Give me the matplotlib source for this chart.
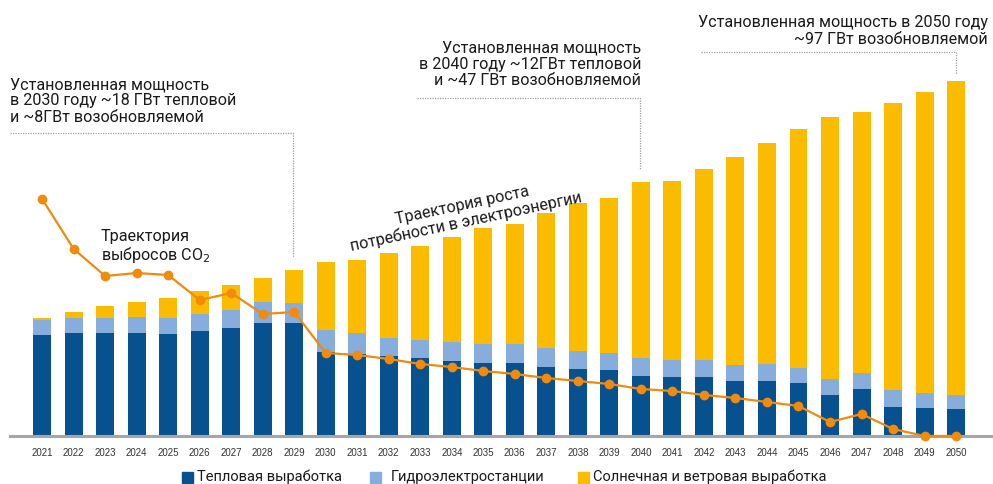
import numpy as np
import matplotlib.pyplot as plt
from matplotlib.patches import Rectangle

# Годы
years = list(range(2021, 2051))

# Высоты сегментов столбцов (относительные единицы)
thermal = [101, 103, 103, 103, 102, 105, 108, 113, 113, 84,
           82, 80, 78, 75, 73, 73, 69, 67, 66, 60,
           59, 59, 55, 55, 53, 41, 47, 29, 28, 27]
hydro = [15, 15, 15, 16, 16, 17, 18, 21, 20, 22,
         21, 18, 18, 19, 19, 19, 19, 18, 17, 18,
         17, 17, 16, 17, 15, 16, 16, 17, 15, 14]
renew = [2, 6, 12, 15, 20, 23, 25, 24, 33, 68,
         73, 85, 94, 105, 116, 120, 135, 148, 155, 176,
         179, 191, 208, 221, 239, 262, 261, 287, 301, 314]

# Траектория выбросов CO2 (в тех же единицах высоты)
co2 = [237, 187, 160, 163, 161, 136, 143, 122, 124, 83,
       81, 77, 72, 69, 65, 62, 58, 55, 52, 47,
       45, 41, 38, 34, 30, 14, 22, 7, 0, 0]

legend_labels = ["Тепловая выработка", "Гидроэлектростанции",
                 "Солнечная и ветровая выработка"]

c_dark = "#08518F"
c_light = "#86ADDB"
c_yellow = "#FBBC00"
c_orange = "#F28A0C"

plt.rcParams['font.family'] = ['Roboto', 'DejaVu Sans']

W, H = 993, 485
fig = plt.figure(figsize=(W / 100, H / 100), dpi=100)
# оси: слева x=10, справа x=992, низ y=437, верх y=0 (пиксели)
ax = fig.add_axes([10 / W, (H - 437) / H, 982 / W, 437 / H])

x = np.arange(len(years))
th = np.array(thermal)
hy = np.array(hydro)
rn = np.array(renew)
bw = 0.57
ax.bar(x, th, bw, color=c_dark, zorder=2)
ax.bar(x, hy, bw, bottom=th, color=c_light, zorder=2)
ax.bar(x, rn, bw, bottom=th + hy, color=c_yellow, zorder=2)
ax.plot(x, co2, color=c_orange, lw=1.6, marker='o', ms=6, zorder=3, clip_on=False)

ax.set_xlim(-1.02, 30.14)
ax.set_ylim(0, 437)
for s in ['top', 'right', 'left']:
    ax.spines[s].set_visible(False)
ax.spines['bottom'].set_color('#A6A6A6')
ax.spines['bottom'].set_linewidth(2.2)
ax.set_yticks([])
ax.set_xticks(x)
ax.set_xticklabels([str(y) for y in years], fontsize=7, color='#333333',
                   family=['Liberation Sans Narrow', 'Liberation Sans', 'DejaVu Sans'])
ax.tick_params(axis='x', length=0, pad=8)


def px(xp, yp):
    # пиксели картинки -> доли фигуры
    return xp / W, 1 - yp / H


def dotted(pts):
    xs = [p[0] / W for p in pts]
    ys = [1 - p[1] / H for p in pts]
    fig.add_artist(plt.Line2D(xs, ys, color='#A0A0A0', lw=0.9, ls=(0, (1, 1))))


txt_kw = dict(fontsize=11.6, color='#1a1a1a', linespacing=1.12)

fig.text(*px(10, 101), "Установленная мощность\nв 2030 году ~18 ГВт тепловой\nи ~8ГВт возобновляемой",
         ha='left', va='center', **txt_kw)
dotted([(10, 134), (293, 134), (293, 258)])

fig.text(*px(641, 64), "Установленная мощность\nв 2040 году ~12ГВт тепловой\nи ~47 ГВт возобновляемой",
         ha='right', va='center', multialignment='right', **txt_kw)
dotted([(417, 99), (640, 99), (640, 171)])

fig.text(*px(988, 31), "Установленная мощность в 2050 году\n~97 ГВт возобновляемой",
         ha='right', va='center', multialignment='right', **txt_kw)
dotted([(701, 53), (956, 53), (956, 75)])

fig.text(*px(101, 247), "Траектория\nвыбросов CO$_2$", ha='left', va='center', **txt_kw)

fig.text(*px(464, 214), "Траектория роста\nпотребности в электроэнергии",
         ha='center', va='center', rotation=12, rotation_mode='anchor', **txt_kw)

# легенда снизу
leg_x = [(182, 197), (370, 391), (578, 593)]
for (sx, tx), col, lab in zip(leg_x, [c_dark, c_light, c_yellow], legend_labels):
    fig.add_artist(Rectangle(px(sx, 484), 11 / W, 11 / H, color=col, transform=fig.transFigure))
    fig.text(*px(tx, 477), lab, ha='left', va='center', fontsize=10.5, color='#1a1a1a')

fig.savefig("out.png", dpi=100)
